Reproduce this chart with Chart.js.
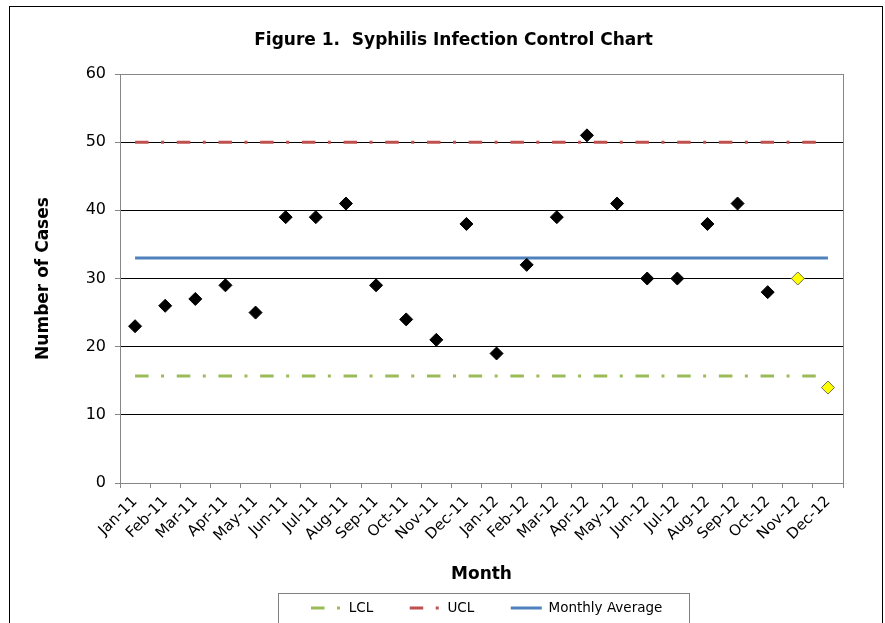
<!DOCTYPE html>
<html>
<head>
<meta charset="utf-8">
<script src="https://cdn.jsdelivr.net/npm/chart.js@4.4.1/dist/chart.umd.min.js"></script>
<style>
html,body{margin:0;padding:0;background:#fff;}
#wrap{width:885px;height:623px;position:relative;}
</style>
</head>
<body>
<div id="wrap"><canvas id="c" width="885" height="623"></canvas></div>
<script>
// ---- data ----
const months = ['Jan-11','Feb-11','Mar-11','Apr-11','May-11','Jun-11','Jul-11','Aug-11','Sep-11','Oct-11','Nov-11','Dec-11',
                'Jan-12','Feb-12','Mar-12','Apr-12','May-12','Jun-12','Jul-12','Aug-12','Sep-12','Oct-12','Nov-12','Dec-12'];
const cases = [23,26,27,29,25,39,39,41,29,24,21,38,19,32,39,51,41,30,30,38,41,28,30,14];
const highlightedMonths = ['Nov-12','Dec-12'];
const lcl = [15.7,15.7,15.7,15.7,15.7,15.7,15.7,15.7,15.7,15.7,15.7,15.7,15.7,15.7,15.7,15.7,15.7,15.7,15.7,15.7,15.7,15.7,15.7,15.7];
const ucl = [50,50,50,50,50,50,50,50,50,50,50,50,50,50,50,50,50,50,50,50,50,50,50,50];
const monthlyAverage = [33,33,33,33,33,33,33,33,33,33,33,33,33,33,33,33,33,33,33,33,33,33,33,33];
const yMin = 0, yMax = 60, yStep = 10;

const FONT = 'DejaVu Sans';
Chart.defaults.font.family = FONT;
Chart.defaults.color = '#000';

const frame = {
  id: 'frame',
  beforeDraw(chart) {
    const ctx = chart.ctx;
    ctx.save();
    ctx.fillStyle = '#fff';
    ctx.fillRect(0, 0, chart.width, chart.height);
    ctx.strokeStyle = '#000';
    ctx.lineWidth = 1;
    ctx.strokeRect(9.5, 6.5, 873, 700);
    ctx.restore();
  },
  beforeDatasetsDraw(chart) {
    const a = chart.chartArea, ctx = chart.ctx;
    ctx.save();
    ctx.strokeStyle = '#868686';
    ctx.lineWidth = 1;
    ctx.strokeRect(Math.round(a.left) + 0.5, Math.round(a.top) + 0.5, Math.round(a.right - a.left), Math.round(a.bottom - a.top));
    ctx.restore();
  }
};

const blockShift = {
  id: 'blockShift',
  afterUpdate(chart) {
    const t = chart.titleBlock;
    if (t) { t.left += 27; t.right += 27; }
    const lg = chart.legend;
    if (!lg || !lg.legendHitBoxes || !lg.legendHitBoxes.length) return;
    const dx = 311 - lg.legendHitBoxes[0].left;
    lg.left += dx; lg.right += dx;
    lg.legendHitBoxes.forEach(h => { h.left += dx; });
  },
  afterDraw(chart) {
    const lg = chart.legend;
    if (!lg || !lg.legendHitBoxes || !lg.legendHitBoxes.length) return;
    const hb = lg.legendHitBoxes;
    const first = hb[0], last = hb[hb.length - 1];
    const l = Math.round(first.left - 33) + 0.5;
    const r = Math.round(last.left + last.width + 27) + 0.5;
    const ctx = chart.ctx;
    ctx.save();
    ctx.strokeStyle = '#7f7f7f';
    ctx.lineWidth = 1;
    ctx.strokeRect(l, 593.5, r - l, 60);
    ctx.restore();
  }
};

function baseLabels(chart) {
  const lp = (Chart.defaults.plugins && Chart.defaults.plugins.legend) || Chart.registry.getPlugin('legend').defaults;
  return lp.labels.generateLabels(chart);
}

const dash = [13.5, 12.5, 3, 12.7];

new Chart(document.getElementById('c'), {
  type: 'line',
  data: {
    labels: months,
    datasets: [
      {
        label: 'Cases',
        data: cases,
        showLine: false,
        pointStyle: 'rectRot',
        pointRadius: 6.5,
        pointBorderWidth: 1,
        pointBackgroundColor: c => highlightedMonths.includes(months[c.dataIndex]) ? '#FFFF00' : '#000000',
        pointBorderColor: c => highlightedMonths.includes(months[c.dataIndex]) ? '#6f6f50' : '#000000'
      },
      {
        label: 'LCL',
        data: lcl,
        borderColor: '#9BBB59',
        backgroundColor: 'transparent',
        borderWidth: 3,
        borderDash: dash,
        borderCapStyle: 'butt',
        pointRadius: 0,
        fill: false
      },
      {
        label: 'UCL',
        data: ucl,
        borderColor: '#C0504D',
        backgroundColor: 'transparent',
        borderWidth: 3,
        borderDash: dash,
        borderCapStyle: 'butt',
        pointRadius: 0,
        fill: false
      },
      {
        label: 'Monthly Average',
        data: monthlyAverage,
        borderColor: '#4F81BD',
        backgroundColor: 'transparent',
        borderWidth: 3,
        borderCapStyle: 'butt',
        pointRadius: 0,
        fill: false
      }
    ]
  },
  options: {
    responsive: false,
    devicePixelRatio: 1,
    animation: false,
    events: [],
    layout: { padding: { left: 10, right: 42, top: 0, bottom: 0 } },
    plugins: {
      title: {
        display: true,
        text: 'Figure 1.  Syphilis Infection Control Chart',
        font: { family: FONT, size: 17, weight: 'bold' },
        color: '#000',
        padding: { top: 30.5, bottom: 23.1 }
      },
      legend: {
        position: 'bottom',
        fullSize: false,
        maxHeight: 58.25,
        labels: {
          usePointStyle: true,
          pointStyle: 'line',
          pointStyleWidth: 31,
          padding: 36.5,
          color: '#000',
          font: { family: FONT, size: 13.5 },
          generateLabels(chart) {
            return baseLabels(chart).filter(i => i.datasetIndex > 0).map(i => {
              const ds = chart.data.datasets[i.datasetIndex];
              i.lineDash = ds.borderDash || [];
              i.lineWidth = ds.borderWidth;
              i.strokeStyle = ds.borderColor;
              i.fillStyle = ds.borderColor;
              i.pointStyle = 'line';
              i.lineCap = 'butt';
              return i;
            });
          }
        }
      },
      tooltip: { enabled: false }
    },
    scales: {
      x: {
        type: 'category',
        offset: true,
        grid: { display: true, offset: true, drawOnChartArea: false, drawTicks: true, tickLength: 5, color: '#868686' },
        border: { display: true, color: '#868686' },
        ticks: { autoSkip: false, maxRotation: 45, minRotation: 45, padding: 5, color: '#000', font: { family: FONT, size: 15 } },
        title: { display: true, text: 'Month', color: '#000', font: { family: FONT, size: 17, weight: 'bold' }, padding: { top: 0, bottom: -20 } },
        afterFit(s) { s.height = 81.75; }
      },
      y: {
        min: yMin,
        max: yMax,
        ticks: { stepSize: yStep, padding: 9, color: '#000', font: { family: FONT, size: 16 } },
        grid: { color: c => (c.tick && (c.tick.value === yMin || c.tick.value === yMax)) ? '#868686' : '#000000', tickColor: '#868686', tickLength: 5, drawTicks: true },
        border: { display: true, color: '#868686' },
        title: { display: true, text: 'Number of Cases', color: '#000', font: { family: FONT, size: 17, weight: 'bold' }, padding: { top: 23.3, bottom: 0 } },
        afterFit(s) { s.width = 110; }
      }
    }
  },
  plugins: [frame, blockShift]
});
</script>
</body>
</html>
